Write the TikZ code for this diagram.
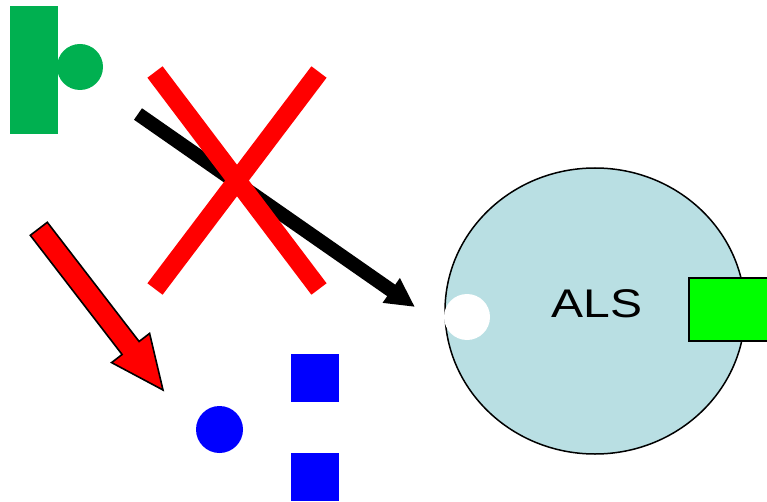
\documentclass[tikz,border=0pt]{standalone}
\usepackage{fontspec}
\setmainfont{Liberation Sans}
\usetikzlibrary{shapes.geometric,arrows.meta}
\definecolor{darkgreen}{RGB}{0,176,80}
\definecolor{brightgreen}{RGB}{0,255,0}
\definecolor{pureblue}{RGB}{0,0,255}
\definecolor{purered}{RGB}{255,0,0}
\definecolor{cellblue}{RGB}{185,223,227}
\tikzset{
  solid shape/.style={inner sep=0pt, outer sep=0pt, draw=none},
  bar/.style={solid shape, rectangle, fill=#1},
  dot/.style={solid shape, circle, fill=#1},
  crossbar/.style={draw=purered, line width=19pt, line cap=butt},
  bigarrow/.style={draw=black, line width=14pt,
    -{Triangle[length=29pt,width=28pt]}},
}
\begin{document}
\begin{tikzpicture}[x=1pt,y=-1pt]
  \useasboundingbox (0,0) rectangle (767,502);
  \clip (0,0) rectangle (767,502);

  % green key shape (top left)
  \node[bar=darkgreen, minimum width=48pt, minimum height=128pt] (gbar) at (34,70) {};
  \node[dot=darkgreen, minimum size=46pt] (gdot) at (80,67) {};

  % black arrow towards the cell
  \coordinate (astart) at (138,114);
  \coordinate (aend) at (415,307);
  \draw[bigarrow] (astart) -- (aend);

  % red cross over it
  \coordinate (x1) at (155,72);
  \coordinate (x2) at (319,289);
  \coordinate (x3) at (319,72);
  \coordinate (x4) at (155,289);
  \draw[crossbar] (x1) -- (x2);
  \draw[crossbar] (x3) -- (x4);

  % red block arrow
  \draw[fill=purered, draw=black, line width=1.6pt, line join=miter]
    (47.3,222.3) -- (139.1,341.5) -- (149.6,333.4) -- (163,390)
    -- (111.6,362.6) -- (122.1,354.5) -- (30.3,235.3) -- cycle;

  % blue shapes
  \node[dot=pureblue, minimum size=47pt] (bdot) at (219.5,429.5) {};
  \node[bar=pureblue, minimum width=48pt, minimum height=48pt] (bsq1) at (315,378) {};
  \node[bar=pureblue, minimum width=48pt, minimum height=48pt] (bsq2) at (315,477) {};

  % the cell
  \node[ellipse, fill=cellblue, draw=black, line width=1.5pt, inner sep=0pt,
        minimum width=300pt, minimum height=286pt] (cell) at (595,311) {};
  \node[dot=white, minimum size=46pt] (port) at (467,317) {};
  \node[rectangle, fill=brightgreen, draw=black, line width=2pt, inner sep=0pt,
        minimum width=90pt, minimum height=63pt] (gsq) at (734,309) {};
  \node[anchor=base, inner sep=0pt, font=\fontsize{40}{40}\selectfont] (als)
    at (597,317) {\scalebox{1.2}[1]{ALS}};
\end{tikzpicture}
\end{document}
